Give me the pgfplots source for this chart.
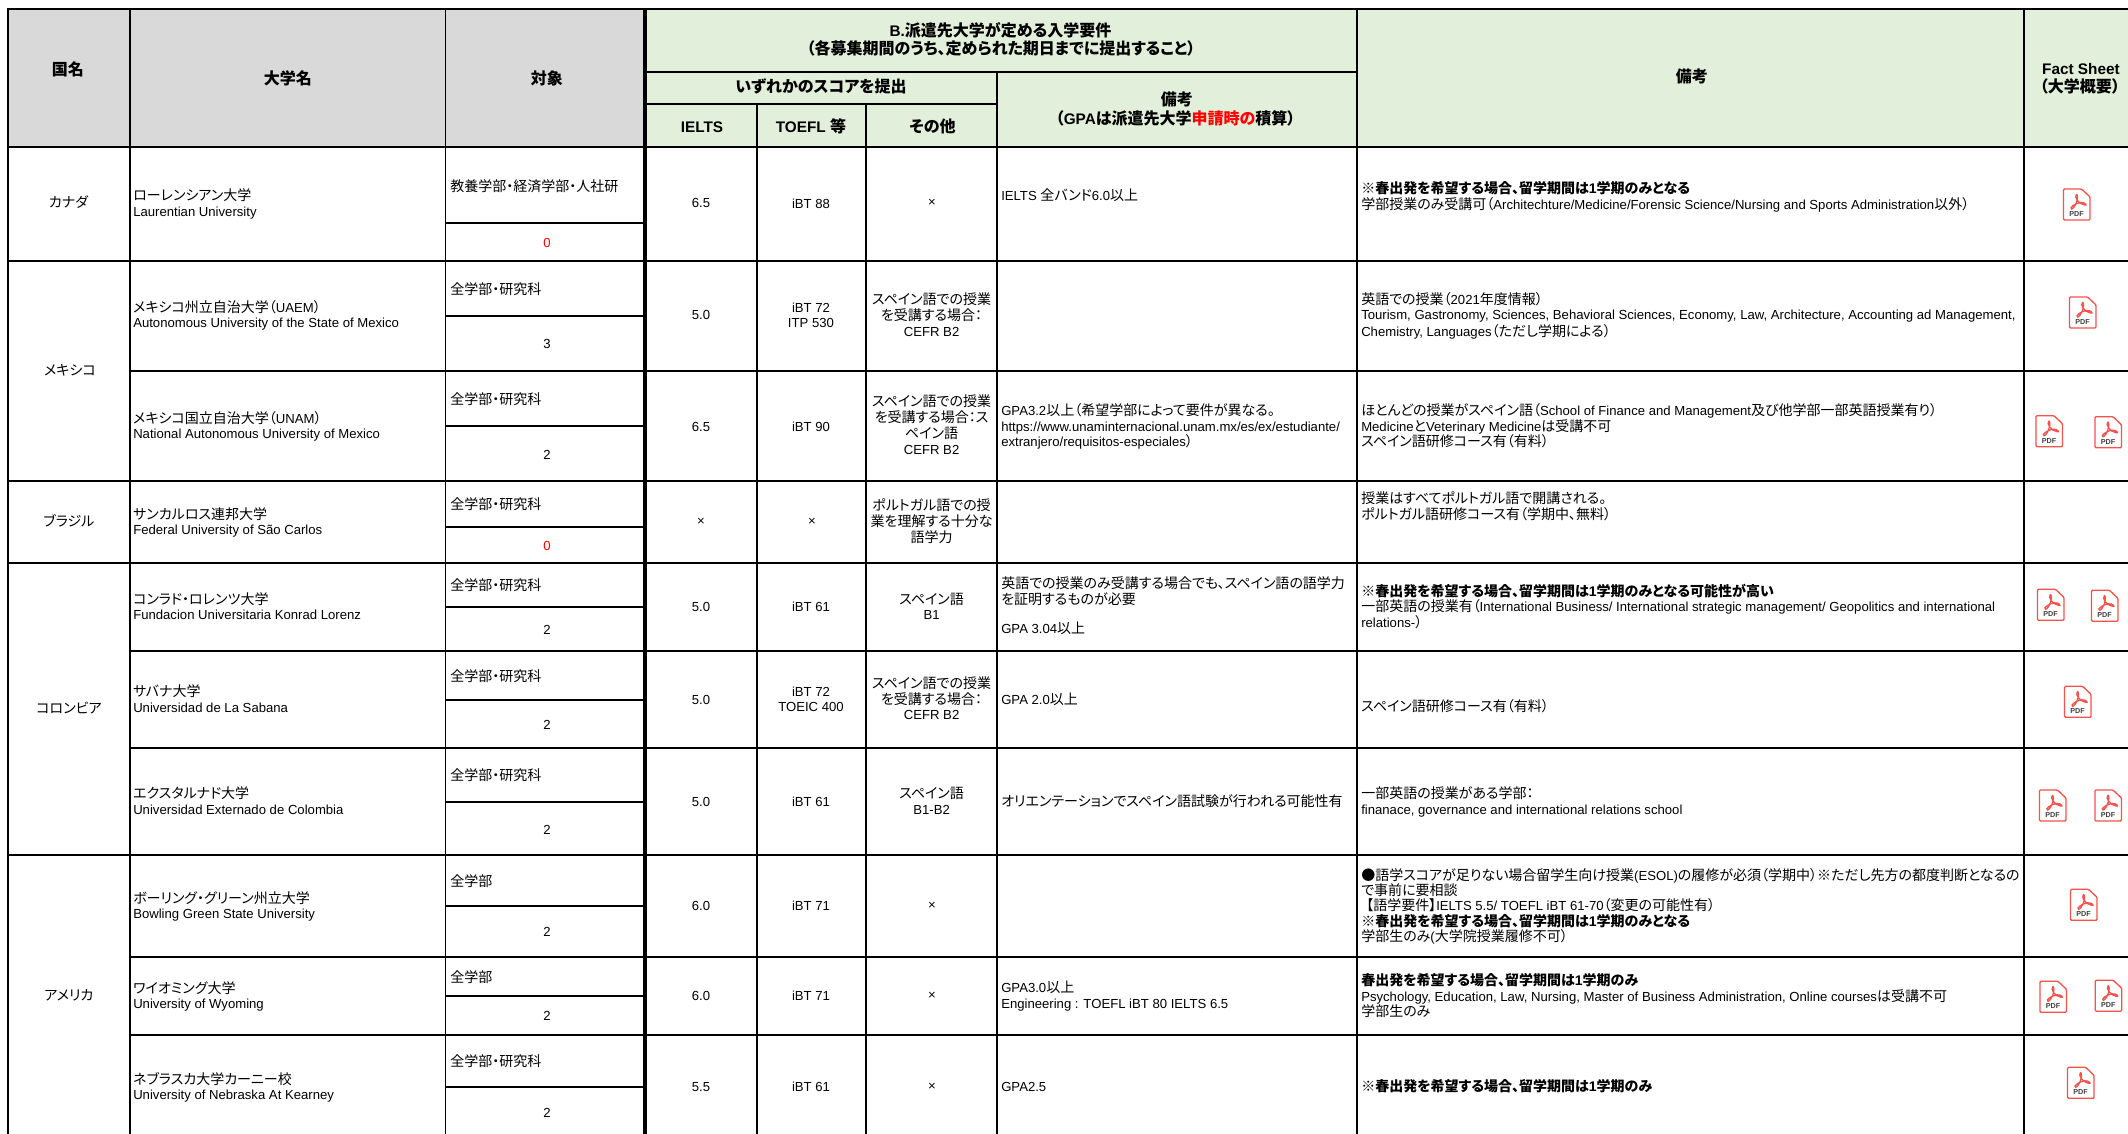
\documentclass[border=0pt]{standalone}
\usepackage{pgfplots}
\pgfplotsset{compat=1.18}
\usepackage{fontspec}
\setmainfont{Liberation Sans}
\newfontfamily\jpf[RawFeature=+palt]{Noto Sans CJK JP}
\newcommand\J[1]{{\jpf\fontsize{10.5}{12}\selectfont #1}}
\newcommand\JH[1]{{\jpf\fontsize{12}{14}\selectfont #1}}
\definecolor{hgrey}{HTML}{D9D9D9}
\definecolor{hgreen}{HTML}{E2EFDA}
\definecolor{pdfred}{HTML}{F4524D}
% text: left / centre at baseline
\newcommand\T[3]{\node[anchor=base west,inner sep=0pt,font=\fontsize{9.85}{12}\selectfont] at (axis cs:#1,#2) {#3};}
\newcommand\C[3]{\node[anchor=base,inner sep=0pt,font=\fontsize{9.85}{12}\selectfont] at (axis cs:#1,#2) {#3};}
\newcommand\B[3]{\node[anchor=base,inner sep=0pt,font=\bfseries\fontsize{11.5}{14}\selectfont] at (axis cs:#1,#2) {#3};}
\newcommand\TB[3]{\node[anchor=base west,inner sep=0pt,font=\bfseries\fontsize{10.5}{12}\selectfont] at (axis cs:#1,#2) {#3};}
% rules
\newcommand\hl[4][1.35pt]{\addplot[black,line width=#1,forget plot,line cap=rect] coordinates {(#3,#2) (#4,#2)};}
\newcommand\vl[4][1.35pt]{\addplot[black,line width=#1,forget plot] coordinates {(#2,#3) (#2,#4)};}
% pdf icon, top-left corner x,y
\newcommand\ICON[2]{%
 \filldraw[pdfred,fill=white,line width=1pt,rounded corners=0.8pt] (axis cs:#1,#2) -- (axis cs:#1+18,#2) -- (axis cs:#1+26.5,#2+8) -- (axis cs:#1+26.5,#2+31) -- (axis cs:#1,#2+31) -- cycle;
 \draw[pdfred,line width=0.95pt] (axis cs:#1+13,#2+5) .. controls (axis cs:#1+10,#2+8) and (axis cs:#1+15,#2+15) .. (axis cs:#1+21,#2+16) .. controls (axis cs:#1+24,#2+17) and (axis cs:#1+22,#2+13) .. (axis cs:#1+17,#2+13.5) .. controls (axis cs:#1+12,#2+14) and (axis cs:#1+5,#2+19) .. (axis cs:#1+8,#2+20) .. controls (axis cs:#1+11,#2+20) and (axis cs:#1+16,#2+8) .. (axis cs:#1+13,#2+5);
 \node[anchor=base,inner sep=0pt,text=black!75,font=\bfseries\fontsize{5.4}{6}\selectfont] at (axis cs:#1+13,#2+27.5) {PDF};
}
\begin{document}
\begin{tikzpicture}
\useasboundingbox (0,0) rectangle (1596pt,850.5pt);
\begin{axis}[
  at={(0,0)},anchor=south west,
  width=1596pt,height=850.5pt,scale only axis,
  xmin=0,xmax=2128,ymin=0,ymax=1134,y dir=reverse,
  hide axis,clip=true]
% header fills
\addplot[fill=hgrey,draw=none,forget plot] coordinates {(8,9) (645,9) (645,147) (8,147)} -- cycle;
\addplot[fill=hgreen,draw=none,forget plot] coordinates {(645,9) (2128,9) (2128,147) (645,147)} -- cycle;
% horizontal rules
\hl[1.9pt]{9}{8}{2128}
\hl[1.6pt]{146.7}{8}{2128}
\hl[1.35pt]{71.7}{645}{1357}
\hl[1.35pt]{104}{645}{997}
\hl[1.6pt]{260.7}{8}{2128}
\hl{370.7}{130}{2128}
\hl[1.6pt]{480.7}{8}{2128}
\hl[1.6pt]{562.7}{8}{2128}
\hl{650.7}{130}{2128}
\hl{747.7}{130}{2128}
\hl[1.6pt]{854.7}{8}{2128}
\hl{956.7}{130}{2128}
\hl{1035}{130}{2128}
% sub rules in the target column
\hl{222.7}{445.5}{645}
\hl{315.7}{445.5}{645}
\hl{425.7}{445.5}{645}
\hl{526.7}{445.5}{645}
\hl{606.7}{445.5}{645}
\hl{700}{445.5}{645}
\hl{801.7}{445.5}{645}
\hl{905.7}{445.5}{645}
\hl{995.7}{445.5}{645}
\hl{1086.7}{445.5}{645}
% vertical rules
\vl[1.9pt]{8}{9}{1134}
\vl{130}{9}{1134}
\vl{445.5}{9}{1134}
\vl[3pt]{644.6}{9}{1134}
\vl[1.1pt]{757}{104}{1134}
\vl[1.1pt]{866}{104}{1134}
\vl[1.2pt]{997}{71.7}{1134}
\vl[1.2pt]{1357}{9}{1134}
\vl[1.2pt]{2024}{9}{1134}
% header text
\B{68}{75.5}{\JH{国名}}
\B{288}{84.5}{\JH{大学名}}
\B{547}{84.5}{\JH{対象}}
\B{1000.5}{36.7}{B.\JH{派遣先大学が定める入学要件}}
\B{1001}{55}{\JH{（各募集期間のうち、定められた期日までに提出すること）}}
\B{821}{93}{\JH{いずれかのスコアを提出}}
\B{702}{132.7}{IELTS}
\B{811}{132.7}{TOEFL \JH{等}}
\B{932.6}{132.7}{\JH{その他}}
\B{1177}{105.7}{\JH{備考}}
\B{1175.6}{125}{\JH{（}GPA\JH{は派遣先大学\textcolor{red}{申請時の}積算）}}
\B{1692}{83}{\JH{備考}}
\B{2081}{75}{Fact Sheet}
\B{2080}{92.7}{\JH{（大学概要）}}
% countries
\C{68.5}{208}{\J{カナダ}}
\C{70}{375}{\J{メキシコ}}
\C{69}{526}{\J{ブラジル}}
\C{69}{713.3}{\J{コロンビア}}
\C{69}{1000.7}{\J{アメリカ}}
% universities
\T{133}{201}{\J{ローレンシアン大学}}
\T{133}{216.7}{Laurentian University}
\T{133}{313}{\J{メキシコ州立自治大学（}UAEM\J{）}}
\T{133}{328}{Autonomous University of the State of Mexico}
\T{133}{423.3}{\J{メキシコ国立自治大学（}UNAM\J{）}}
\T{133}{438.3}{National Autonomous University of Mexico}
\T{133}{519.3}{\J{サンカルロス連邦大学}}
\T{133}{534.3}{Federal University of São Carlos}
\T{133}{604}{\J{コンラド・ロレンツ大学}}
\T{133}{619.3}{Fundacion Universitaria Konrad Lorenz}
\T{133}{696}{\J{サバナ大学}}
\T{133}{712.3}{Universidad de La Sabana}
\T{133}{798.3}{\J{エクスタルナド大学}}
\T{133}{814}{Universidad Externado de Colombia}
\T{133}{903.3}{\J{ボーリング・グリーン州立大学}}
\T{133}{918.3}{Bowling Green State University}
\T{133}{993.3}{\J{ワイオミング大学}}
\T{133}{1008.3}{University of Wyoming}
\T{133}{1084}{\J{ネブラスカ大学カーニー校}}
\T{133}{1099.3}{University of Nebraska At Kearney}
% target + places
\T{450}{191.7}{\J{教養学部・経済学部・人社研}}
\C{547}{248}{\textcolor{red}{0}}
\T{450}{295}{\J{全学部・研究科}}
\C{547}{349}{3}
\T{450}{404.3}{\J{全学部・研究科}}
\C{547}{459}{2}
\T{450}{509.3}{\J{全学部・研究科}}
\C{547}{550}{\textcolor{red}{0}}
\T{450}{590.7}{\J{全学部・研究科}}
\C{547}{634}{2}
\T{450}{681}{\J{全学部・研究科}}
\C{547}{729}{2}
\T{450}{780}{\J{全学部・研究科}}
\C{547}{834}{2}
\T{450}{886}{\J{全学部}}
\C{547}{936.7}{2}
\T{450}{982.3}{\J{全学部}}
\C{547}{1020.7}{2}
\T{450}{1066}{\J{全学部・研究科}}
\C{547}{1117.7}{2}
% IELTS
\C{701}{207.3}{6.5}
\C{701}{320}{5.0}
\C{701}{431}{6.5}
\C{701}{525}{×}
\C{701}{611}{5.0}
\C{701}{704}{5.0}
\C{701}{806}{5.0}
\C{701}{910}{6.0}
\C{701}{1000}{6.0}
\C{701}{1091}{5.5}
% TOEFL
\C{811}{209}{iBT 88}
\C{811}{313}{iBT 72}
\C{811}{327.7}{ITP 530}
\C{811}{431}{iBT 90}
\C{812}{525}{×}
\C{811}{611}{iBT 61}
\C{811}{696}{iBT 72}
\C{811}{711.7}{TOEIC 400}
\C{811}{806}{iBT 61}
\C{811}{910}{iBT 71}
\C{811}{1000}{iBT 71}
\C{811}{1091}{iBT 61}
% other
\C{932}{206.7}{×}
\C{931.6}{305}{\J{スペイン語での授業}}
\C{931.6}{320.7}{\J{を受講する場合：}}
\C{931.6}{336}{CEFR B2}
\C{931.6}{406.7}{\J{スペイン語での授業}}
\C{931.6}{422.3}{\J{を受講する場合：ス}}
\C{931.6}{438.3}{\J{ペイン語}}
\C{931.6}{454}{CEFR B2}
\C{931.6}{510}{\J{ポルトガル語での授}}
\C{931.6}{526}{\J{業を理解する十分な}}
\C{931.6}{542}{\J{語学力}}
\C{931.6}{604.3}{\J{スペイン語}}
\C{931.6}{619.3}{B1}
\C{931.6}{688.3}{\J{スペイン語での授業}}
\C{931.6}{704.3}{\J{を受講する場合：}}
\C{931.6}{719}{CEFR B2}
\C{931.6}{798.7}{\J{スペイン語}}
\C{931.6}{814}{B1-B2}
\C{932}{909}{×}
\C{932}{999}{×}
\C{932}{1090}{×}
% remarks B
\T{1001}{201}{IELTS \J{全バンド}6.0\J{以上}}
\T{1001}{415}{GPA3.2\J{以上（希望学部によって要件が異なる。}}
\T{1001}{431}{https://www.unaminternacional.unam.mx/es/ex/estudiante/}
\T{1001}{446.3}{extranjero/requisitos-especiales\J{）}}
\T{1001}{588.3}{\J{英語での授業のみ受講する場合でも、スペイン語の語学力}}
\T{1001}{604.3}{\J{を証明するものが必要}}
\T{1001}{633.3}{GPA 3.04\J{以上}}
\T{1001}{704}{GPA 2.0\J{以上}}
\T{1001}{806.7}{\J{オリエンテーションでスペイン語試験が行われる可能性有}}
\T{1001}{992.7}{GPA3.0\J{以上}}
\T{1001}{1008}{Engineering : TOEFL iBT 80 IELTS 6.5}
\T{1001}{1091}{GPA2.5}
% remarks
\TB{1361}{193.3}{\J{※春出発を希望する場合、留学期間は}1\J{学期のみとなる}}
\T{1361}{209.3}{\J{学部授業のみ受講可（}Architechture/Medicine/Forensic Science/Nursing and Sports Administration\J{以外）}}
\T{1361}{305}{\J{英語での授業（}2021\J{年度情報）}}
\T{1361}{320}{Tourism, Gastronomy, Sciences, Behavioral Sciences, Economy, Law, Architecture, Accounting ad Management,}
\T{1361}{336}{Chemistry, Languages\J{（ただし学期による）}}
\T{1361}{415}{\J{ほとんどの授業がスペイン語（}School of Finance and Management\J{及び他学部一部英語授業有り）}}
\T{1361}{431}{Medicine\J{と}Veterinary Medicine\J{は受講不可}}
\T{1361}{446.3}{\J{スペイン語研修コース有（有料）}}
\T{1361}{503.3}{\J{授業はすべてポルトガル語で開講される。}}
\T{1361}{519}{\J{ポルトガル語研修コース有（学期中、無料）}}
\TB{1361}{596}{\J{※春出発を希望する場合、留学期間は}1\J{学期のみとなる可能性が高い}}
\T{1361}{611.3}{\J{一部英語の授業有（}International Business/ International strategic management/ Geopolitics and international}
\T{1361}{627}{relations-\J{）}}
\T{1361}{711.7}{\J{スペイン語研修コース有（有料）}}
\T{1361}{798.3}{\J{一部英語の授業がある学部：}}
\T{1361}{814}{finanace, governance and international relations school}
\T{1361}{880}{\J{●語学スコアが足りない場合留学生向け授業}(ESOL)\J{の履修が必須（学期中）※ただし先方の都度判断となるの}}
\T{1361}{895}{\J{で事前に要相談}}
\T{1366}{910}{\J{【語学要件】}IELTS 5.5/ TOEFL iBT 61-70\J{（変更の可能性有）}}
\TB{1361}{926}{\J{※春出発を希望する場合、留学期間は}1\J{学期のみとなる}}
\T{1361}{941}{\J{学部生のみ}(\J{大学院授業履修不可）}}
\TB{1361}{985}{\J{春出発を希望する場合、留学期間は}1\J{学期のみ}}
\T{1361}{1001}{Psychology, Education, Law, Nursing, Master of Business Administration, Online courses\J{は受講不可}}
\T{1361}{1016}{\J{学部生のみ}}
\TB{1361}{1091.7}{\J{※春出発を希望する場合、留学期間は}1\J{学期のみ}}
% icons
\ICON{2063.6}{189}
\ICON{2069.6}{297}
\ICON{2036}{415.7}
\ICON{2095}{416.7}
\ICON{2037.5}{589.3}
\ICON{2091.5}{590.3}
\ICON{2064.6}{686.3}
\ICON{2039.5}{790}
\ICON{2095}{790}
\ICON{2070.6}{889.3}
\ICON{2040}{981.3}
\ICON{2095.3}{980.3}
\ICON{2067.6}{1067.3}
\end{axis}
\end{tikzpicture}
\end{document}
